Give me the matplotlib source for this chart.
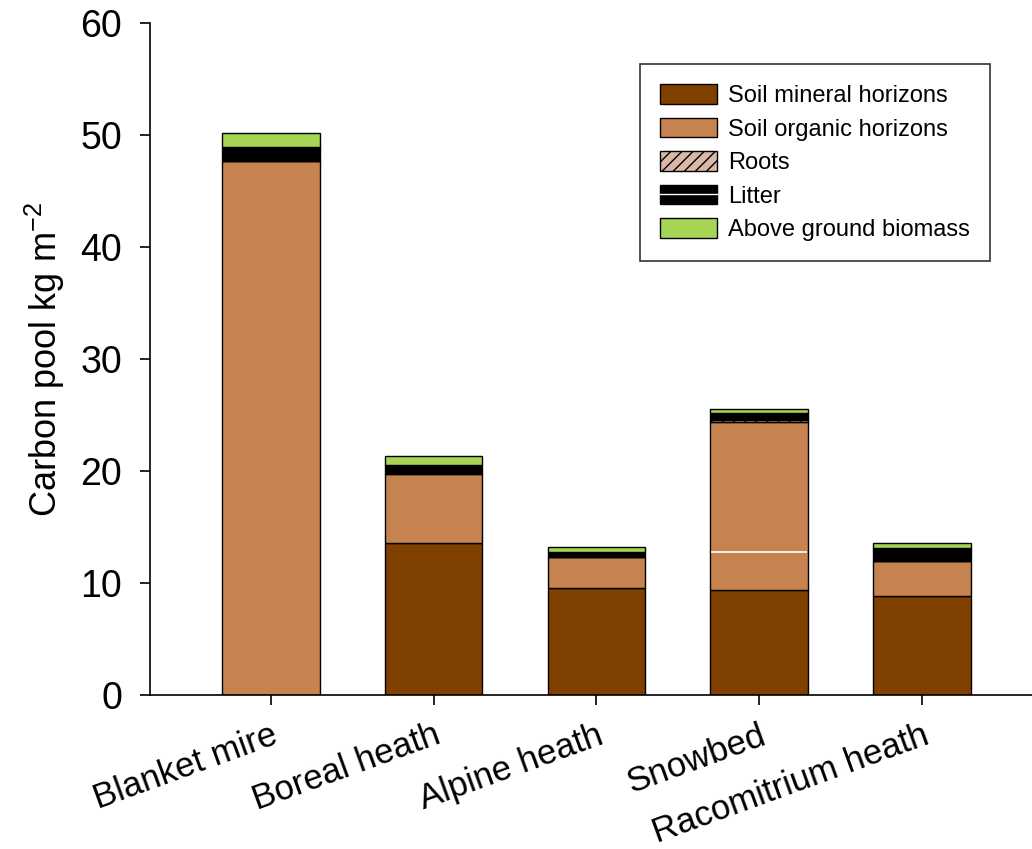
import matplotlib
matplotlib.use('Agg')
import matplotlib.pyplot as plt
import numpy as np
from matplotlib.patches import Patch
from matplotlib.lines import Line2D

plt.rcParams['font.family'] = ['Liberation Sans', 'DejaVu Sans']
plt.rcParams['hatch.linewidth'] = 1.0

# Carbon pools per habitat (kg m-2)
habitats = ['Blanket mire', 'Boreal heath', 'Alpine heath', 'Snowbed', 'Racomitrium heath']
mineral = [0.0, 13.55, 9.55, 9.4, 8.85]
organic = [47.7, 6.15, 2.75, 15.0, 3.1]
roots = [0.0, 0.15, 0.0, 0.15, 0.0]
litter = [1.2, 0.65, 0.45, 0.65, 1.15]
above = [1.3, 0.8, 0.45, 0.35, 0.47]
# white rule inside the Snowbed organic layer
snowbed_rule = 12.75

layers = [
    ('Soil mineral horizons', mineral, '#804000', None),
    ('Soil organic horizons', organic, '#c68350', None),
    ('Roots', roots, '#d9b8a8', '///'),
    ('Litter', litter, '#000000', None),
    ('Above ground biomass', above, '#a6d454', None),
]

fig = plt.figure(figsize=(10.32, 8.49), dpi=100)
ax = fig.add_axes([0.1453, 0.1814, 0.8547, 0.7915])

x = np.arange(len(habitats))
bottom = np.zeros(len(habitats))
for name, vals, col, hatch in layers:
    vals = np.array(vals)
    ax.bar(x, vals, width=0.6, bottom=bottom, color=col, edgecolor='black',
           linewidth=1.0, hatch=hatch, zorder=2)
    bottom += vals

ax.hlines(snowbed_rule, x[3] - 0.295, x[3] + 0.295, color='white', linewidth=1.2, zorder=3)

ax.set_xlim(-0.743, 4.676)
ax.set_ylim(0, 60)
ax.set_yticks(np.arange(0, 61, 10))
ax.set_xticks(x)
ax.set_xticklabels(habitats, rotation=20, ha='right', rotation_mode='anchor', fontsize=25)
ax.tick_params(axis='both', direction='out', length=7, width=1.2)
ax.tick_params(axis='y', labelsize=27, pad=13)
ax.tick_params(axis='x', pad=10)
for s in ['top', 'right']:
    ax.spines[s].set_visible(False)
for s in ['left', 'bottom']:
    ax.spines[s].set_linewidth(1.2)
ax.set_ylabel('Carbon pool kg m$^{\\mathregular{-2}}$', fontsize=26, labelpad=10)

handles = [
    Patch(facecolor='#804000', edgecolor='black'),
    Patch(facecolor='#c68350', edgecolor='black'),
    Patch(facecolor='#d9b8a8', edgecolor='black', hatch='///'),
    (Patch(facecolor='black', edgecolor='black'), Line2D([], [], color='white', linewidth=1.0)),
    Patch(facecolor='#a6d454', edgecolor='black'),
]
labels = [l[0] for l in layers]
leg = fig.legend(handles, labels, loc='upper left', bbox_to_anchor=(0.620, 0.9246),
                 borderaxespad=0, fontsize=17, frameon=True, fancybox=False,
                 edgecolor='black', handlelength=2.4, handleheight=0.9,
                 labelspacing=0.45, borderpad=0.85, handletextpad=0.5)
leg.get_frame().set_linewidth(1.2)

plt.savefig('out.png', dpi=100)
